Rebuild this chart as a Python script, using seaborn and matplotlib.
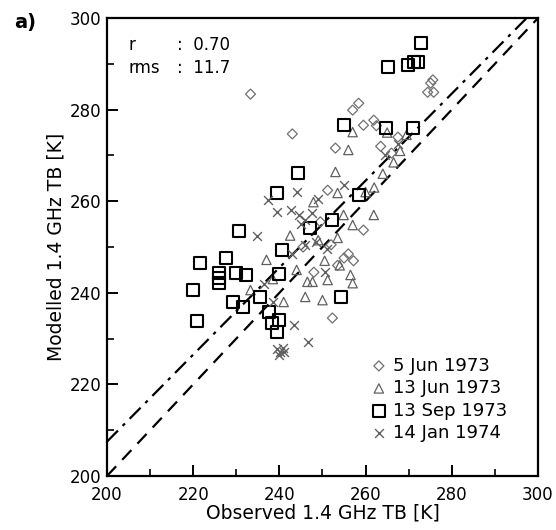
import matplotlib
matplotlib.use('Agg')
import matplotlib.pyplot as plt
import seaborn as sns
import pandas as pd

# data (observed, modelled) in K
jun5_obs = [233.3, 243.0, 257.0, 258.4, 259.5, 261.9, 253.0, 251.2, 259.5, 252.3,
            274.4, 275.8, 275.1, 275.6, 262.5, 255.0, 256.0, 257.2, 263.5, 266.0,
            249.5, 252.0, 245.5, 267.5, 248.0, 253.5]
jun5_mod = [283.4, 274.7, 279.9, 281.4, 276.6, 277.7, 271.6, 262.4, 253.7, 234.5,
            283.8, 283.8, 285.8, 286.5, 276.5, 247.6, 248.5, 247.0, 272.0, 270.5,
            255.5, 250.5, 250.0, 274.0, 244.5, 246.0]

jun13_obs = [257.0, 256.0, 253.0, 253.5, 247.9, 261.9, 253.5, 254.9, 257.0, 237.0,
             233.3, 246.5, 247.7, 251.2, 256.5, 257.0, 246.0, 250.0, 266.5, 268.0,
             269.5, 264.0, 262.0, 250.5, 244.0, 241.0, 249.0, 260.0, 265.0, 242.5,
             238.5, 254.0]
jun13_mod = [275.1, 271.2, 266.4, 261.8, 259.8, 257.0, 252.0, 257.0, 254.8, 247.2,
             240.6, 242.4, 242.4, 242.8, 243.9, 242.1, 239.1, 238.4, 268.5, 271.0,
             274.5, 266.0, 263.0, 247.0, 245.0, 238.0, 251.5, 262.0, 275.0, 252.5,
             243.0, 246.0]

sep13_obs = [272.8, 265.1, 269.8, 271.2, 272.1, 264.7, 270.9, 254.9, 244.4, 239.5,
             258.4, 247.0, 252.3, 230.7, 240.7, 221.6, 227.7, 226.0, 226.0, 226.0,
             230.0, 232.3, 220.0, 240.0, 229.3, 231.6, 235.6, 220.9, 237.7, 238.4,
             239.8, 239.5, 254.2]
sep13_mod = [294.5, 289.3, 289.7, 290.4, 290.4, 276.0, 276.0, 276.6, 266.2, 261.8,
             261.4, 254.1, 255.9, 253.5, 249.3, 246.5, 247.6, 244.3, 243.2, 242.1,
             244.3, 243.9, 240.6, 244.1, 238.0, 236.9, 239.1, 233.8, 235.8, 233.4,
             234.1, 231.4, 239.1]

jan14_obs = [237.4, 239.5, 242.6, 244.5, 246.0, 247.5, 245.0, 234.7, 243.3, 246.7,
             240.2, 239.5, 240.8, 240.0, 241.0, 249.0, 244.0, 248.5, 251.0, 243.0,
             236.5, 238.5, 250.5, 246.0, 255.0, 264.5, 267.5]
jan14_mod = [260.3, 257.6, 258.1, 257.0, 256.0, 257.5, 255.0, 252.4, 233.0, 229.3,
             227.1, 227.8, 228.0, 226.5, 227.0, 260.5, 262.0, 251.0, 249.5, 248.5,
             242.0, 238.0, 244.5, 250.5, 263.5, 270.0, 272.5]

dates = ['5 Jun 1973', '13 Jun 1973', '13 Sep 1973', '14 Jan 1974']

# regression line (dash-dot) and stats
fit_slope = 0.95
fit_intercept = 17.5
r_value = '0.70'
rms_value = '11.7'

sns.set_style('ticks')
plt.rcParams['font.family'] = ['DejaVu Sans']
plt.rcParams['text.color'] = 'black'
plt.rcParams['axes.labelcolor'] = 'black'
plt.rcParams['xtick.direction'] = 'in'
plt.rcParams['ytick.direction'] = 'in'

fig = plt.figure(figsize=(5.56, 5.30), dpi=100)
ax = fig.add_axes([0.1924, 0.1019, 0.7752, 0.864])

groups = [
    (jun5_obs, jun5_mod, dict(marker='D', s=26, facecolors='none', edgecolors='#707070', linewidths=0.9)),
    (jun13_obs, jun13_mod, dict(marker='^', s=45, facecolors='none', edgecolors='#606060', linewidths=0.9)),
    (sep13_obs, sep13_mod, dict(marker='s', s=75, facecolors='none', edgecolors='black', linewidths=1.5)),
    (jan14_obs, jan14_mod, dict(marker='x', s=40, color='#606060', linewidths=1.0)),
]
for (obs, mod, kw), lab in zip(groups, dates):
    df = pd.DataFrame({'obs': obs, 'mod': mod})
    sns.scatterplot(data=df, x='obs', y='mod', ax=ax, label=lab, zorder=3, **kw)

# 1:1 line and fitted line
ax.plot([200, 300], [200, 300], color='black', lw=1.6, ls=(0, (6, 4)), zorder=2)
xs = [200, 300]
ax.plot(xs, [fit_slope * v + fit_intercept for v in xs], color='black', lw=1.6,
        ls=(0, (7, 3, 1.5, 3)), zorder=2)

ax.set_xlim(200, 300)
ax.set_ylim(200, 300)
ax.set_xticks(range(200, 301, 20))
ax.set_yticks(range(200, 301, 20))
ax.set_xticks(range(210, 300, 20), minor=True)
ax.set_yticks(range(210, 300, 20), minor=True)
ax.tick_params(which='major', length=8, width=1.4, labelsize=12, colors='black')
ax.tick_params(axis='x', which='major', pad=7)
ax.tick_params(axis='y', which='major', pad=4)
ax.tick_params(which='minor', length=5, width=1.4)
for sp in ax.spines.values():
    sp.set_linewidth(1.6)
    sp.set_visible(True)
    sp.set_color('black')

ax.set_xlabel('Observed 1.4 GHz TB [K]', fontsize=13.5, labelpad=0)
ax.set_ylabel('Modelled 1.4 GHz TB [K]', fontsize=13.5, labelpad=3)

ax.text(0.049, 0.941, 'r', transform=ax.transAxes, fontsize=12, va='center')
ax.text(0.163, 0.941, ':  ' + r_value, transform=ax.transAxes, fontsize=12, va='center')
ax.text(0.049, 0.891, 'rms', transform=ax.transAxes, fontsize=12, va='center')
ax.text(0.163, 0.891, ':  ' + rms_value, transform=ax.transAxes, fontsize=12, va='center')

fig.text(0.025, 0.957, 'a)', fontsize=14, fontweight='bold', va='center')

ax.legend(loc='lower right', frameon=False, fontsize=13, handletextpad=0.3,
          labelspacing=0.25, borderaxespad=0, borderpad=0.3, handlelength=1.0,
          bbox_to_anchor=(0.942, 0.062))

fig.savefig('out.png', dpi=100)
